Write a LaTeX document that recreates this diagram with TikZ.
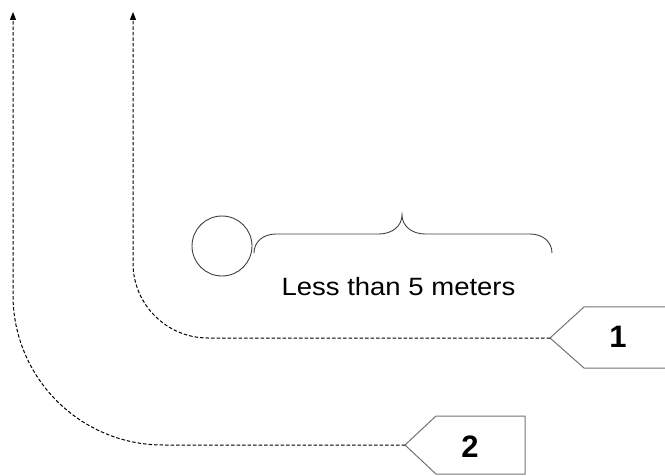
\documentclass[tikz,border=0pt]{standalone}
\usepackage{fontspec}
\setmainfont{Liberation Sans}
\usetikzlibrary{arrows.meta}
\begin{document}
\begin{tikzpicture}[x=1pt,y=-1pt,
  path/.style={draw=black,line width=1pt,dash pattern=on 3.5pt off 2pt,
    -{Triangle[width=6pt,length=8pt]}},
  tag/.style={draw=black!55,line width=1pt},
  num/.style={font=\fontsize{31}{36}\selectfont\bfseries,inner sep=0pt},
  thin/.style={draw=black!75,line width=0.9pt}]
\useasboundingbox (0,0) rectangle (665,476);
% tags
\coordinate (tip1) at (550,338);
\coordinate (tip2) at (405,445);
\coordinate (top1) at (133,12);
\coordinate (top2) at (13,12);
\draw[tag] (665,307) -- (584,307) -- (tip1) -- (584,368) -- (665,368);
\node[num] (n1) at (618,337) {1};
\draw[tag] (525,416) -- (436,416) -- (tip2) -- (436,474) -- (525,474) -- cycle;
\node[num] (n2) at (470,447) {2};
% dashed paths
\draw[path] (tip1) -- (208,338) .. controls (166.6,338) and (133,304.4) .. (133,263) -- (top1);
\draw[path] (tip2) -- (163,445) .. controls (80.2,445) and (13,377.8) .. (13,295) -- (top2);
% circle and brace
\node[thin,circle,minimum size=60pt,inner sep=0pt] (c) at (222,246) {};
\draw[thin] (254,253) .. controls (254,242) and (263,234) .. (276,234) -- (379,234)
  .. controls (392,234) and (402,226) .. (402,215) .. controls (402,226) and (412,234) .. (425,234)
  -- (530,234) .. controls (543,234) and (552,242) .. (552,253);
\node[font=\fontsize{25}{30}\selectfont,xscale=1.1,inner sep=0pt] (lbl) at (398.5,286.5) {Less than 5 meters};
\end{tikzpicture}
\end{document}
